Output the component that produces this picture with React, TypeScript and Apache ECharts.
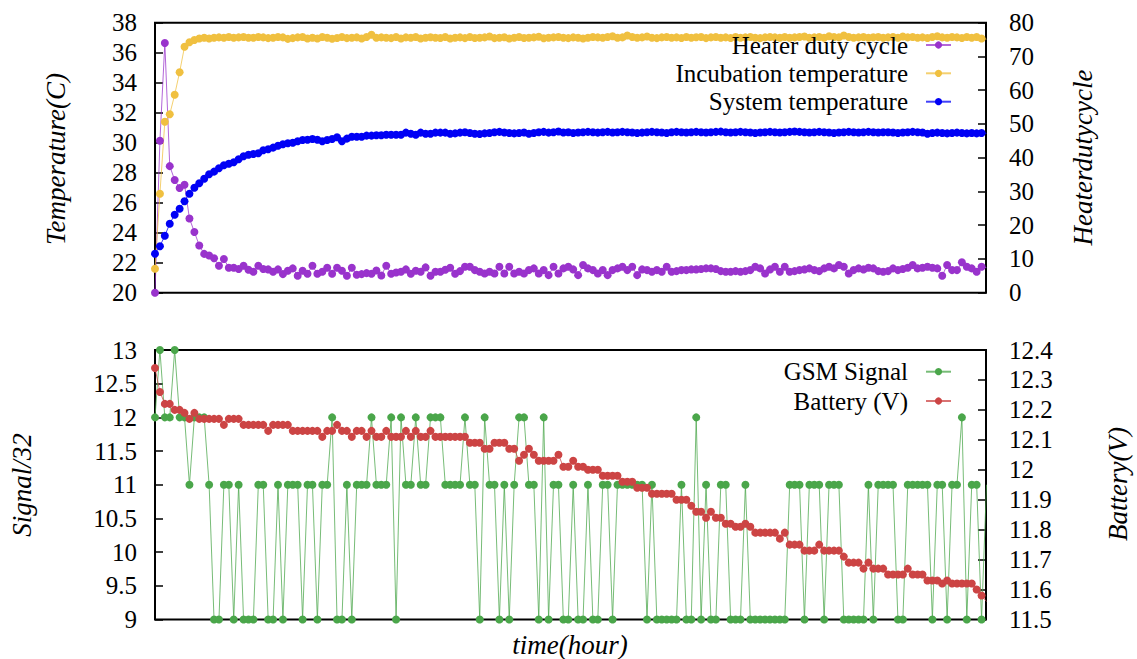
import React, { useEffect, useRef } from "react";
import * as echarts from "echarts";

const FONT = "Liberation Serif";

// Top panel: heater duty cycle (%), right axis
const dutyCycle: number[] = [
  0, 45, 74, 37.5, 33.4, 31, 32, 22, 18, 14,
  11.5, 11, 10.2, 8, 10, 7.4, 7.4, 7, 8, 6.8,
  6.2, 8, 7, 6.9, 6.2, 6.9, 5.5, 6.5, 7.2, 5,
  6.5, 5.6, 8, 5.6, 6.2, 7.4, 5.6, 7.4, 6.5, 5,
  7.4, 5.3, 5.5, 5.8, 5.6, 6.6, 5.1, 8, 5.6, 6,
  6.2, 6.9, 5.6, 6.5, 6.2, 7.5, 5, 6.2, 6.2,
  6.8, 7.4, 5.6, 6.4, 7.7, 7.7, 6.7, 6.2, 5.7, 6.2,
  5.7, 7.7, 5.7, 7.7, 5.7, 6.2, 5.7, 6.7, 7.2, 5.7,
  6.7, 5.2, 7.7, 5.7, 7.2, 7.7, 6.9, 5.2, 8.2, 7.2,
  6.7, 5.7, 6.7, 5.2, 6.7, 7.2, 7.7, 6.7, 7.7, 5.2,
  6.9, 6.7, 6.2, 6.7, 6.2, 7.7, 6.2, 6.4, 6.7, 6.7,
  6.9, 6.9, 7.0, 7.2, 7.2, 7.0, 6.4, 6.2, 6.2, 6.4,
  6.2, 6.4, 6.7, 7.7, 7.2, 5.7, 6.9, 7.7, 6.2, 7.7,
  6.2, 6.4, 6.7, 6.9, 7.2, 6.7, 6.4, 7.2, 7.7, 7.2,
  8.2, 7.7, 5.7, 6.7, 7.2, 6.9, 7.4, 7.2, 6.4, 6.2,
  6.4, 7.2, 6.7, 7.0, 7.4, 8.2, 7.2, 7.4, 7.7, 7.4,
  7.2, 5.0, 8.2, 6.7, 6.7, 9.0, 7.7, 7.2, 6.2, 7.7,
  7.4,
];

// Top panel: incubation temperature (C), left axis
const incubationTemp: number[] = [
  21.6, 26.6, 31.4, 31.9, 33.2, 34.7, 36.4, 36.7, 36.85,
  36.95, 37.0, 36.95, 37.0, 37.02, 37.0, 37.05, 37.0, 37.02, 37.05,
  37.0, 37.0, 37.05, 37.02, 36.97, 37.0, 37.05, 37.02, 36.92, 36.97,
  37.02, 37.05, 36.95, 37.0, 36.95, 37.05, 37.0, 36.93, 36.98, 37.05,
  36.97, 37.0, 37.02, 36.95, 37.05, 37.2, 37.0, 37.02, 37.0, 36.97,
  37.05, 36.95, 37.02, 37.0, 37.05, 36.95, 37.0, 37.03, 37.0, 36.98,
  37.05, 36.95, 37.0, 37.02, 36.97, 37.05, 36.98, 37.0, 37.02, 37.08,
  36.97, 37.0, 37.03, 36.95, 37.0, 37.05, 36.98, 37.0, 37.02, 37.06,
  36.96, 37.0, 37.02, 37.05, 37.0, 36.97, 37.02, 37.0, 36.95, 37.0,
  37.05, 37.02, 37.0, 37.05, 37.1, 37.0, 37.02, 37.15, 37.05, 37.0,
  37.02, 37.08, 37.0, 36.97, 37.02, 37.05, 37.0, 37.02, 36.98, 37.05,
  37.0, 37.03, 37.05, 36.97, 37.02, 37.05, 37.0, 37.02, 36.98, 37.05,
  37.0, 37.02, 37.05, 37.0, 36.97, 37.02, 37.05, 37.02, 37.0, 37.05,
  37.0, 37.02, 37.05, 37.08, 37.0, 37.02, 37.05, 37.0, 37.1, 37.05,
  37.02, 37.15, 37.05, 37.0, 37.02, 37.05, 37.0, 37.03, 37.05, 37.0,
  37.02, 37.05, 37.0, 37.08, 37.02, 37.05, 37.0, 37.02, 36.98, 37.05,
  37.1, 37.02, 37.0, 37.05, 37.02, 36.98, 37.05, 37.0, 37.05, 36.95,
  36.9,
];

// Top panel: system temperature (C), left axis
const systemTemp: number[] = [
  22.6, 23.1, 23.8, 24.6, 25.2, 25.6, 26.1, 26.6, 27.0, 27.3,
  27.6, 27.9, 28.07, 28.3, 28.5, 28.6, 28.7, 28.9, 29.1, 29.2,
  29.25, 29.3, 29.5, 29.56, 29.67, 29.8, 29.9, 29.96, 30.0, 30.1,
  30.18, 30.2, 30.25, 30.2, 30.1, 30.18, 30.25, 30.36, 30.1, 30.27,
  30.4, 30.4, 30.4, 30.47, 30.47, 30.5, 30.5, 30.53, 30.53, 30.53,
  30.53, 30.67, 30.6, 30.53, 30.67, 30.6, 30.6, 30.67, 30.67,
  30.67, 30.6, 30.62, 30.67, 30.7, 30.65, 30.6, 30.58, 30.62, 30.65,
  30.7, 30.72, 30.68, 30.65, 30.62, 30.65, 30.68, 30.6, 30.65, 30.7,
  30.72, 30.67, 30.7, 30.75, 30.68, 30.7, 30.65, 30.68, 30.7, 30.72,
  30.7, 30.67, 30.7, 30.72, 30.68, 30.7, 30.72, 30.7, 30.68, 30.65,
  30.67, 30.7, 30.72, 30.7, 30.68, 30.65, 30.7, 30.72, 30.7, 30.68,
  30.7, 30.72, 30.7, 30.68, 30.7, 30.72, 30.74, 30.7, 30.68, 30.7,
  30.72, 30.7, 30.68, 30.65, 30.68, 30.7, 30.72, 30.7, 30.68, 30.7,
  30.72, 30.75, 30.72, 30.7, 30.68, 30.7, 30.72, 30.7, 30.68, 30.65,
  30.68, 30.7, 30.72, 30.7, 30.68, 30.7, 30.72, 30.7, 30.68, 30.7,
  30.7, 30.68, 30.65, 30.68, 30.7, 30.72, 30.7, 30.68, 30.6, 30.65,
  30.67, 30.65, 30.62, 30.65, 30.67, 30.65, 30.62, 30.65, 30.62, 30.65,
  30.62,
];

// Bottom panel: GSM signal (/32), left axis
const gsmSignal: number[] = [
  12, 13, 12, 12, 13, 12, 12, 11, 12, 12,
  12, 11, 9, 9, 11, 11, 9, 11, 9, 9,
  9, 11, 11, 9, 9, 11, 9, 11, 11, 11,
  9, 11, 11, 9, 11, 11, 12, 9, 9, 11,
  9, 11, 11, 11, 12, 11, 11, 11, 12, 9,
  12, 11, 11, 12, 11, 11, 12, 12, 12, 11,
  11, 11, 11, 12, 11, 11, 9, 12, 11, 11,
  9, 11, 9, 11, 12, 12, 11, 11, 9, 12,
  9, 11, 11, 9, 9, 11, 9, 9, 11, 9,
  9, 11, 11, 9, 11, 11, 11, 11, 11, 11,
  9, 11, 9, 9, 9, 9, 9, 11, 9, 9,
  12, 9, 11, 9, 9, 11, 11, 9, 9, 9,
  11, 9, 9, 9, 9, 9, 9, 9, 9, 11,
  11, 11, 9, 11, 11, 11, 9, 11, 11, 11,
  9, 9, 9, 9, 9, 11, 9, 11, 11, 11,
  11, 9, 9, 11, 11, 11, 11, 11, 9, 11,
  11, 9, 11, 11, 12, 9, 11, 11, 9, 11,
];

// Bottom panel: battery voltage (V), right axis
const battery: number[] = [
  12.34, 12.26, 12.22, 12.22, 12.2, 12.2, 12.19, 12.17, 12.19, 12.17,
  12.17, 12.17, 12.17, 12.17, 12.15, 12.17, 12.17, 12.17, 12.15, 12.15,
  12.15, 12.15, 12.15, 12.13, 12.15, 12.15, 12.15, 12.15, 12.13, 12.13,
  12.13, 12.13, 12.13, 12.13, 12.11, 12.13, 12.13, 12.15, 12.13, 12.13,
  12.11, 12.13, 12.13, 12.11, 12.13, 12.11, 12.11, 12.13, 12.11, 12.11,
  12.11, 12.13, 12.11, 12.13, 12.11, 12.11, 12.13, 12.11, 12.11, 12.11,
  12.11, 12.11, 12.11, 12.11, 12.09, 12.09, 12.09, 12.07, 12.07, 12.09,
  12.09, 12.09, 12.07, 12.07, 12.03, 12.05, 12.07, 12.05, 12.03, 12.03,
  12.03, 12.03, 12.05, 12.01, 12.01, 12.03, 12.01, 12.01, 12.0, 12.0,
  12.0, 11.98, 11.98, 11.98, 11.98, 11.96, 11.96, 11.96, 11.94, 11.94,
  11.94, 11.92, 11.92, 11.92, 11.92, 11.92, 11.9, 11.9, 11.9, 11.88,
  11.86, 11.86, 11.84, 11.86, 11.84, 11.84, 11.82, 11.82, 11.81, 11.81,
  11.82, 11.81, 11.79, 11.79, 11.79, 11.79, 11.79, 11.77, 11.79, 11.75,
  11.75, 11.75, 11.73, 11.73, 11.73, 11.75, 11.73, 11.73, 11.73, 11.73,
  11.71, 11.69, 11.69, 11.69, 11.67, 11.69, 11.67, 11.67, 11.67, 11.65,
  11.65, 11.65, 11.65, 11.67, 11.65, 11.65, 11.65, 11.63, 11.63, 11.63,
  11.62, 11.63, 11.62, 11.62, 11.62, 11.62, 11.62, 11.6, 11.58, 11.56,
];

const leftTempTicks = { min: 20, max: 38, interval: 2 };
const rightDutyTicks = { min: 0, max: 80, interval: 10 };
const leftSignalTicks = { min: 9, max: 13, interval: 0.5 };
const rightBatteryTicks = { min: 11.5, max: 12.4, interval: 0.1 };
const X_MAX = 168.9;

const COLORS = {
  duty: "#9933cc",
  incub: "#f0c040",
  system: "#0000f5",
  gsm: "#4aa64a",
  battery: "#cc4444",
};

const toPairs = (arr: number[]) => arr.map((v, i) => [i, v]);

function buildOption() {
  const labelStyle = { color: "#000", fontFamily: FONT, fontSize: 25 };
  const tickStyle = { show: true, inside: true, length: 8, lineStyle: { color: "#000", width: 1.5 } };
  const yAxisBase = (gridIndex: number, pos: "left" | "right", t: any, margin: number) => ({
    type: "value",
    gridIndex,
    position: pos,
    min: t.min,
    max: t.max,
    interval: t.interval,
    axisLine: { show: false },
    axisTick: tickStyle,
    splitLine: { show: false },
    axisLabel: { ...labelStyle, margin },
  });
  const lineSeries = (name: string, data: number[], color: string, xi: number, yi: number) => ({
    name,
    type: "line",
    xAxisIndex: xi,
    yAxisIndex: yi,
    data: toPairs(data),
    symbol: "circle",
    symbolSize: 8,
    showSymbol: true,
    clip: true,
    itemStyle: { color },
    lineStyle: { color, width: 1, opacity: 0.75 },
    emphasis: { disabled: true },
  });
  const legendRow = (name: string, centerY: number) => ({
    data: [name],
    orient: "vertical",
    right: 185,
    top: centerY - 14,
    align: "right",
    padding: 0,
    itemWidth: 25,
    itemHeight: 9,
    selectedMode: false,
    textStyle: { color: "#000", fontFamily: FONT, fontSize: 25, lineHeight: 28, padding: [0, 13, 0, 0] },
  });
  const axisTitle = (text: string, x: number, y: number, rotate: boolean) => ({
    type: "text",
    x,
    y,
    rotation: rotate ? Math.PI / 2 : 0,
    style: {
      text,
      fill: "#000",
      fontFamily: FONT,
      fontStyle: "italic",
      fontSize: 27,
      textAlign: "center",
      textVerticalAlign: "middle",
    },
  });

  return {
    animation: false,
    backgroundColor: "#fff",
    grid: [
      { left: 155, top: 22.7, width: 831, height: 270, show: true, borderColor: "#000", borderWidth: 2, backgroundColor: "transparent" },
      { left: 155, top: 350, width: 831, height: 269.5, show: true, borderColor: "#000", borderWidth: 2, backgroundColor: "transparent" },
    ],
    xAxis: [
      { type: "value", gridIndex: 0, min: 0, max: X_MAX, show: false },
      { type: "value", gridIndex: 1, min: 0, max: X_MAX, show: false },
    ],
    yAxis: [
      yAxisBase(0, "left", leftTempTicks, 18),
      yAxisBase(0, "right", rightDutyTicks, 23),
      yAxisBase(1, "left", leftSignalTicks, 18),
      yAxisBase(1, "right", rightBatteryTicks, 23),
    ],
    legend: [
      legendRow("Heater duty cycle", 45),
      legendRow("Incubation temperature", 73.3),
      legendRow("System temperature", 101.7),
      legendRow("GSM Signal", 371.7),
      legendRow("Battery (V)", 401),
    ],
    series: [
      lineSeries("Heater duty cycle", dutyCycle, COLORS.duty, 0, 1),
      lineSeries("Incubation temperature", incubationTemp, COLORS.incub, 0, 0),
      lineSeries("System temperature", systemTemp, COLORS.system, 0, 0),
      lineSeries("GSM Signal", gsmSignal, COLORS.gsm, 1, 2),
      lineSeries("Battery (V)", battery, COLORS.battery, 1, 3),
    ],
    graphic: [
      axisTitle("Temperature(C)", 56, 159, true),
      axisTitle("Heaterdutycycle", 1083, 157.5, true),
      axisTitle("Signal/32", 22, 485, true),
      axisTitle("Battery(V)", 1118, 484, true),
      axisTitle("time(hour)", 570, 645, false),
    ],
  };
}

export default function App() {
  const ref = useRef<HTMLDivElement>(null);
  useEffect(() => {
    document.body.style.margin = "0";
    const chart = echarts.init(ref.current as HTMLDivElement, null, { renderer: "svg" });
    chart.setOption(buildOption() as any);
    return () => chart.dispose();
  }, []);
  return <div ref={ref} style={{ width: 1137, height: 659 }} />;
}
